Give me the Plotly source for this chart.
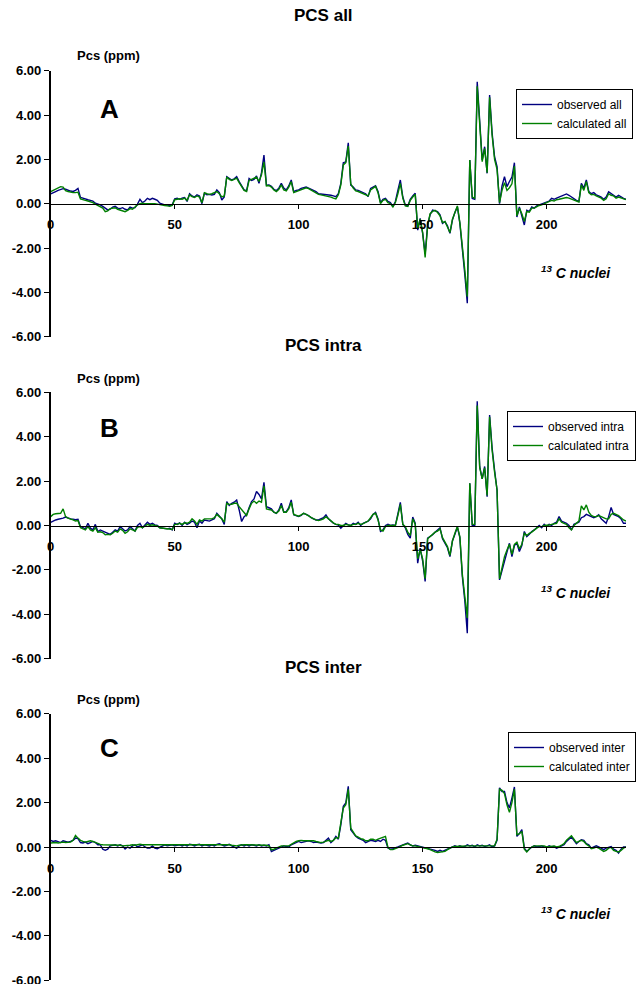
import plotly.graph_objects as go

# ---------------- data ----------------
nuclei = list(range(233))

obs_all = [
    0.44, 0.48, 0.55, 0.6, 0.65, 0.68, 0.65, 0.6, 0.57, 0.55,
    0.6, 0.69, 0.28, 0.25, 0.2, 0.18, 0.15, 0.12, 0.02, 0.0,
    -0.05, -0.12, -0.22, -0.28, -0.25, -0.15, -0.12, -0.2, -0.22, -0.18,
    -0.25, -0.28, -0.15, -0.2, -0.18, -0.02, 0.2, 0.05, 0.12, 0.24,
    0.18, 0.24, 0.2, 0.15, 0.02, -0.02, -0.05, -0.06, -0.08, -0.05,
    0.22, 0.25, 0.2, 0.25, 0.28, 0.1, 0.45, 0.35, 0.3, 0.4,
    0.35, 0.0, 0.48, 0.4, 0.42, 0.39, 0.42, 0.62, 0.5, 0.17,
    0.3, 1.22, 1.15, 1.07, 1.12, 1.22, 1.0, 0.8, 0.62, 0.59,
    1.14, 1.05, 1.1, 1.25, 0.92, 1.4, 2.19, 0.84, 0.85, 0.78,
    0.65, 0.59, 0.7, 0.92, 0.7, 0.62, 0.8, 1.07, 0.54, 0.6,
    0.62, 0.69, 0.72, 0.75, 0.7, 0.65, 0.6, 0.55, 0.45, 0.44,
    0.42, 0.4, 0.39, 0.38, 0.35, 0.32, 0.45, 0.92, 1.85, 1.89,
    2.75, 0.84, 0.75, 0.62, 0.6, 0.55, 0.5, 0.45, 0.32, 0.69,
    0.75, 0.81, 0.55, 0.05, 0.2, 0.24, 0.1, 0.05, -0.13, 0.1,
    0.6, 1.07, 0.3, -0.06, -0.1, 0.2, 0.35, 0.47, -1.19, -0.66,
    -1.34, -2.27, -0.96, -0.5, -0.29, -0.32, -0.36, -0.5, -0.89, -0.81,
    -1.0, -1.34, -0.74, -0.4, -0.14, -0.89, -2.24, -3.2, -4.49, 1.97,
    0.24, 0.2, 5.5, 3.5, 1.97, 2.57, 1.37, 4.9, 3.2, 2.12,
    1.67, 0.0, 0.8, 1.22, 0.77, 1.0, 1.2, 1.85, -0.6, -0.15,
    -0.5, -0.96, -0.3, -0.35, -0.15, -0.2, -0.1, -0.05, 0.0, 0.05,
    0.1, 0.12, 0.24, 0.2, 0.25, 0.3, 0.35, 0.4, 0.44, 0.38,
    0.3, 0.2, 0.15, 0.1, 0.92, 0.7, 1.07, 0.55, 0.45, 0.5,
    0.4, 0.35, 0.3, 0.2, 0.3, 0.54, 0.45, 0.4, 0.3, 0.38,
    0.3, 0.24, 0.2,
]

calc_all = [
    0.54, 0.6, 0.65, 0.72, 0.77, 0.75, 0.59, 0.55, 0.52, 0.5,
    0.5, 0.52, 0.22, 0.2, 0.15, 0.12, 0.1, 0.05, -0.02, -0.08,
    -0.12, -0.2, -0.36, -0.32, -0.22, -0.2, -0.18, -0.25, -0.28, -0.3,
    -0.36, -0.3, -0.22, -0.25, -0.15, -0.05, 0.0, 0.02, 0.0, 0.0,
    0.0, 0.02, 0.0, -0.02, -0.05, -0.06, -0.08, -0.1, -0.12, -0.08,
    0.18, 0.2, 0.22, 0.2, 0.25, 0.15, 0.4, 0.32, 0.28, 0.35,
    0.3, 0.05, 0.5, 0.45, 0.42, 0.45, 0.5, 0.55, 0.45, 0.31,
    0.35, 1.2, 1.1, 1.05, 1.1, 1.15, 0.95, 0.75, 0.6, 0.55,
    1.05, 1.1, 1.15, 1.2, 1.0, 1.3, 1.89, 0.8, 0.82, 0.75,
    0.62, 0.55, 0.65, 0.85, 0.62, 0.58, 0.75, 1.0, 0.5, 0.55,
    0.6, 0.65, 0.7, 0.72, 0.68, 0.62, 0.55, 0.5, 0.42, 0.4,
    0.38, 0.35, 0.35, 0.3, 0.25, 0.22, 0.4, 0.85, 1.75, 1.85,
    2.6, 0.9, 0.7, 0.58, 0.55, 0.5, 0.48, 0.42, 0.35, 0.62,
    0.7, 0.78, 0.5, 0.0, 0.15, 0.2, 0.05, 0.0, -0.15, 0.05,
    0.45, 0.92, 0.25, -0.1, -0.12, 0.15, 0.3, 0.42, -1.1, -0.7,
    -1.3, -2.42, -1.0, -0.45, -0.35, -0.3, -0.4, -0.55, -0.85, -0.8,
    -1.05, -1.3, -0.7, -0.35, -0.1, -0.85, -2.1, -3.0, -4.19, 1.97,
    0.3, 0.25, 5.3, 3.4, 1.9, 2.5, 1.4, 4.8, 3.1, 2.0,
    1.55, 0.05, 0.6, 0.95, 0.6, 0.72, 0.9, 1.7, -0.55, -0.2,
    -0.45, -0.8, -0.35, -0.38, -0.2, -0.2, -0.12, -0.08, -0.05, 0.0,
    0.05, 0.08, 0.15, 0.12, 0.18, 0.2, 0.22, 0.25, 0.28, 0.25,
    0.2, 0.15, 0.1, 0.08, 0.85, 0.6, 1.0, 0.5, 0.4, 0.42,
    0.35, 0.3, 0.25, 0.15, 0.22, 0.45, 0.38, 0.35, 0.25, 0.3,
    0.25, 0.22, 0.18,
]

obs_intra = [
    0.14, 0.2, 0.25, 0.28, 0.3, 0.33, 0.38, 0.33, 0.3, 0.28,
    0.26, 0.28, -0.05, -0.1, -0.15, 0.1, -0.12, -0.2, 0.05, -0.27,
    -0.2, -0.25, -0.3, -0.35, -0.4, -0.3, -0.2, -0.25, -0.05, -0.15,
    -0.25, -0.2, -0.05, -0.15, -0.25, 0.0, 0.1, -0.1, 0.05, 0.15,
    0.05, 0.1, 0.03, 0.0, -0.1, -0.12, -0.12, -0.15, -0.12, -0.2,
    0.1, 0.05, 0.12, 0.0, 0.15, 0.05, 0.1, 0.2, 0.15, -0.1,
    0.2, 0.1, 0.25, 0.22, 0.2, 0.25, 0.3, 0.55, 0.4, 0.3,
    0.05, 1.08, 0.9, 1.0, 1.05, 1.15, 0.7, 0.18, 0.4, 0.48,
    0.8, 1.08, 1.2, 1.53, 1.4, 1.2, 1.94, 0.85, 0.8, 0.75,
    0.6, 0.55, 0.7, 1.0, 0.6, 0.62, 0.8, 1.15, 0.48, 0.45,
    0.4, 0.45, 0.55, 0.5, 0.45, 0.35, 0.28, 0.25, 0.25, 0.3,
    0.35, 0.48, 0.3, 0.2, 0.1, 0.05, 0.02, -0.12, 0.0, 0.1,
    0.03, 0.0, 0.1, 0.05, 0.15, 0.0, 0.1, 0.15, 0.2, 0.3,
    0.5, 0.59, 0.3, -0.27, -0.2, 0.0, 0.05, 0.0, 0.02, 0.0,
    0.5, 1.04, 0.05, -0.1, -0.4, -0.57, 0.38, 0.1, -1.7, -1.02,
    -1.6, -2.52, -0.57, -0.5, -0.42, -0.3, -0.2, -0.1, -0.6, -0.8,
    -1.0, -1.4, -0.7, -0.4, -0.07, -0.55, -2.3, -3.4, -4.85, 1.9,
    0.0, 0.0, 5.6, 2.66, 2.1, 2.66, 1.3, 4.98, 3.5, 2.5,
    1.6, -2.45, -2.0, -1.55, -1.2, -0.8, -1.4, -0.9, -0.8, -1.17,
    -0.9, -0.27, -0.5, -0.4, -0.27, -0.2, -0.1, 0.0, -0.1, 0.05,
    -0.05, 0.05, 0.0, 0.1, 0.15, 0.4, 0.2, 0.15, 0.1, 0.0,
    -0.2, 0.05, 0.1, 0.15, 0.35, 0.4, 0.5, 0.45, 0.4, 0.35,
    0.4, 0.48, 0.3, 0.2, 0.1, 0.4, 0.81, 0.5, 0.45, 0.4,
    0.3, 0.1, 0.1,
]

calc_intra = [
    0.4, 0.5, 0.53, 0.55, 0.55, 0.75, 0.4, 0.33, 0.3, 0.25,
    0.2, 0.22, -0.1, -0.15, -0.2, -0.05, -0.2, -0.25, -0.1, -0.3,
    -0.28, -0.32, -0.42, -0.4, -0.42, -0.35, -0.25, -0.3, -0.15, -0.22,
    -0.35, -0.28, -0.15, -0.2, -0.25, -0.08, -0.05, -0.1, -0.02, 0.05,
    0.0, 0.03, 0.0, -0.02, -0.1, -0.12, -0.12, -0.15, -0.15, -0.18,
    0.05, 0.05, 0.1, 0.05, 0.12, 0.1, 0.15, 0.3, 0.2, 0.05,
    0.25, 0.2, 0.3, 0.3, 0.28, 0.3, 0.35, 0.5, 0.4, 0.3,
    0.15, 1.0, 0.95, 0.95, 1.0, 1.0, 0.85, 0.7, 0.55, 0.45,
    0.75, 1.0, 1.1, 1.0, 1.1, 1.05, 1.79, 0.75, 0.72, 0.7,
    0.6, 0.55, 0.65, 0.9, 0.6, 0.6, 0.75, 1.05, 0.5, 0.45,
    0.42, 0.48, 0.55, 0.5, 0.42, 0.35, 0.3, 0.25, 0.22, 0.25,
    0.3, 0.4, 0.3, 0.2, 0.12, 0.05, 0.05, 0.0, 0.0, 0.05,
    0.02, 0.0, 0.05, 0.05, 0.1, 0.05, 0.08, 0.15, 0.2, 0.35,
    0.5, 0.55, 0.25, -0.2, -0.25, -0.05, 0.0, 0.0, 0.0, 0.0,
    0.45, 0.95, 0.05, -0.05, -0.3, -0.45, 0.3, 0.05, -1.5, -1.1,
    -1.5, -2.4, -0.6, -0.5, -0.4, -0.3, -0.25, -0.15, -0.55, -0.75,
    -0.95, -1.35, -0.7, -0.35, -0.05, -0.5, -2.2, -3.2, -4.17, 1.9,
    0.05, 0.05, 5.4, 2.6, 2.1, 2.6, 1.35, 4.9, 3.4, 2.4,
    1.6, -2.4, -1.9, -1.4, -1.1, -0.85, -1.3, -0.85, -0.75, -1.05,
    -0.85, -0.35, -0.45, -0.35, -0.3, -0.2, -0.12, -0.05, -0.05, 0.0,
    0.0, 0.02, 0.05, 0.08, 0.1, 0.3, 0.15, 0.1, 0.05, -0.1,
    -0.2, 0.0, 0.1, 0.2, 0.89, 0.7, 0.93, 0.6, 0.45, 0.4,
    0.4, 0.45, 0.4, 0.35, 0.3, 0.3, 0.5, 0.55, 0.5, 0.45,
    0.35, 0.25, 0.2,
]

obs_inter = [
    0.3, 0.25, 0.28, 0.25, 0.2, 0.28, 0.25, 0.22, 0.25, 0.3,
    0.4, 0.38, 0.2, 0.18, 0.22, 0.15, 0.2, 0.25, 0.2, 0.1,
    0.1, -0.1, -0.15, -0.1, 0.05, 0.08, 0.1, 0.05, 0.1, 0.05,
    -0.09, 0.0, -0.05, 0.05, 0.1, 0.0, 0.05, 0.1, 0.0, -0.05,
    -0.05, 0.05, -0.05, -0.08, -0.02, 0.05, 0.1, 0.05, 0.08, 0.1,
    0.05, 0.08, 0.1, 0.05, 0.1, 0.05, 0.12, 0.1, 0.05, 0.1,
    0.12, 0.05, 0.1, 0.08, 0.05, 0.1, 0.05, 0.12, 0.15, 0.1,
    0.05, 0.08, 0.12, 0.05, 0.0, -0.05, 0.05, 0.1, 0.05, 0.1,
    0.05, 0.1, 0.08, 0.05, 0.1, 0.05, 0.08, 0.05, 0.1, -0.2,
    -0.15, -0.1, -0.05, 0.0, 0.05, 0.02, 0.0, 0.1, 0.15, 0.2,
    0.25, 0.2, 0.22, 0.25, 0.28, 0.25, 0.2, 0.22, 0.2, 0.18,
    0.2, 0.3, 0.4, 0.2, 0.3, 0.48, 0.35, 1.0, 1.83, 1.98,
    2.73, 0.78, 0.6, 0.48, 0.4, 0.35, 0.3, 0.2, 0.25, 0.3,
    0.28, 0.25, 0.3, 0.25, 0.35, 0.3, -0.05, -0.1, -0.08, -0.05,
    0.0, 0.05, 0.1, 0.15, 0.18, 0.1, 0.05, 0.08, 0.05, 0.02,
    0.0, -0.02, -0.05, -0.08, -0.1, -0.15, -0.2, -0.15, -0.2, -0.15,
    -0.1, -0.05, 0.0, 0.05, 0.0, 0.05, 0.0, 0.02, 0.1, 0.05,
    0.08, 0.0, 0.1, 0.05, 0.08, 0.02, 0.05, 0.1, 0.0, 0.05,
    0.3, 2.66, 2.5, 2.5, 2.0, 1.76, 2.2, 2.7, 0.48, 0.6,
    0.78, -0.05, -0.2, -0.1, 0.0, 0.05, 0.0, 0.02, 0.05, 0.0,
    -0.02, 0.05, 0.0, 0.02, -0.05, 0.0, 0.05, 0.1, 0.25, 0.35,
    0.45, 0.3, 0.15, 0.25, 0.33, 0.3, 0.15, 0.1, -0.05, 0.0,
    0.05, 0.0, -0.05, -0.12, -0.05, 0.0, 0.02, -0.1, -0.15, -0.27,
    -0.1, 0.0, 0.0,
]

calc_inter = [
    0.18, 0.2, 0.2, 0.18, 0.2, 0.22, 0.2, 0.2, 0.22, 0.3,
    0.52, 0.4, 0.3, 0.25, 0.22, 0.25, 0.28, 0.25, 0.2, 0.15,
    0.12, 0.1, 0.1, 0.08, 0.1, 0.1, 0.08, 0.1, 0.08, 0.05,
    0.05, 0.05, 0.08, 0.1, 0.08, 0.1, 0.12, 0.1, 0.1, 0.12,
    0.13, 0.1, 0.12, 0.13, 0.12, 0.13, 0.12, 0.1, 0.12, 0.13,
    0.12, 0.13, 0.12, 0.1, 0.12, 0.13, 0.12, 0.13, 0.12, 0.1,
    0.12, 0.13, 0.12, 0.13, 0.12, 0.13, 0.12, 0.13, 0.12, 0.12,
    0.1, 0.12, 0.1, 0.08, 0.05, 0.05, 0.08, 0.1, 0.1, 0.1,
    0.1, 0.1, 0.1, 0.08, 0.1, 0.1, 0.08, 0.08, 0.05, -0.12,
    -0.1, -0.05, 0.0, 0.05, 0.05, 0.05, 0.05, 0.12, 0.2, 0.25,
    0.28, 0.3, 0.28, 0.28, 0.3, 0.3, 0.28, 0.25, 0.22, 0.2,
    0.22, 0.25, 0.3, 0.25, 0.3, 0.42, 0.4, 1.1, 1.75, 1.9,
    2.6, 0.85, 0.65, 0.5, 0.45, 0.38, 0.35, 0.28, 0.28, 0.35,
    0.35, 0.3, 0.35, 0.4, 0.45, 0.48, -0.02, -0.12, -0.12, -0.08,
    -0.02, 0.02, 0.08, 0.1, 0.15, 0.1, 0.05, 0.05, 0.03, 0.0,
    -0.02, -0.05, -0.08, -0.12, -0.18, -0.22, -0.25, -0.24, -0.22, -0.2,
    -0.12, -0.05, 0.0, 0.02, 0.03, 0.05, 0.05, 0.05, 0.05, 0.05,
    0.05, 0.05, 0.08, 0.05, 0.05, 0.05, 0.05, 0.08, 0.05, 0.05,
    0.35, 2.6, 2.55, 2.4, 1.9, 1.56, 2.0, 2.6, 0.55, 0.6,
    0.7, -0.1, -0.22, -0.08, 0.0, 0.05, 0.05, 0.05, 0.05, 0.05,
    0.0, 0.02, 0.05, 0.05, 0.0, 0.02, 0.08, 0.15, 0.3, 0.4,
    0.5, 0.35, 0.2, 0.25, 0.3, 0.25, 0.12, 0.05, -0.08, -0.05,
    0.0, -0.05, -0.12, -0.2, -0.15, -0.05, -0.02, -0.15, -0.2, -0.22,
    -0.15, -0.05, 0.0,
]

panel_titles = ["PCS all", "PCS intra", "PCS inter"]
panel_letters = ["A", "B", "C"]
observed_names = ["observed all", "observed intra", "observed inter"]
calculated_names = ["calculated all", "calculated intra", "calculated inter"]
y_ticks = [-6, -4, -2, 0, 2, 4, 6]
y_tick_text = ["-6.00", "-4.00", "-2.00", "0.00", "2.00", "4.00", "6.00"]
x_ticks = [0, 50, 100, 150, 200]

observed = [obs_all, obs_intra, obs_inter]
calculated = [calc_all, calc_intra, calc_inter]

# ---------------- layout geometry (pixels) ----------------
W, H = 636, 984
FONT = "Liberation Sans"
NAVY = "#000080"
GREEN = "#008000"


def fx(px):
    return px / W


def fy(py):
    return 1 - py / H


plot_left, plot_right = 50.7, 626.0
panels = [
    dict(top=70.7, bottom=336.7, title_y=16, ylabel_y=56, letter_y=109,
         nuclei_y=272, leg_x=633, leg_y=89),
    dict(top=392.3, bottom=658.7, title_y=345, ylabel_y=378, letter_y=428,
         nuclei_y=592, leg_x=636, leg_y=411),
    dict(top=713.7, bottom=980.3, title_y=667, ylabel_y=699, letter_y=748,
         nuclei_y=913, leg_x=636, leg_y=732),
]

fig = go.Figure()
layout = dict(
    width=W, height=H, autosize=False,
    margin=dict(l=0, r=0, t=0, b=0),
    paper_bgcolor="white", plot_bgcolor="white",
    font=dict(family=FONT, color="black"),
    annotations=[],
)

for k, p in enumerate(panels):
    n = "" if k == 0 else str(k + 1)
    leg = "legend" if k == 0 else f"legend{k + 1}"
    y_dom = [fy(p["bottom"]), fy(p["top"])]

    fig.add_trace(go.Scatter(
        x=nuclei, y=observed[k], mode="lines", name=observed_names[k],
        line=dict(color=NAVY, width=1.4), xaxis=f"x{n}", yaxis=f"y{n}",
        legend=leg,
    ))
    fig.add_trace(go.Scatter(
        x=nuclei, y=calculated[k], mode="lines", name=calculated_names[k],
        line=dict(color=GREEN, width=1.4), xaxis=f"x{n}", yaxis=f"y{n}",
        legend=leg,
    ))

    layout[f"xaxis{n}"] = dict(
        domain=[fx(plot_left), fx(plot_right)], range=[0, 232],
        anchor="free", position=(y_dom[0] + y_dom[1]) / 2,
        showline=True, linecolor="black", linewidth=1.3,
        ticks="outside", ticklen=4, tickwidth=1.2, tickcolor="black",
        tickvals=x_ticks, ticklabelstandoff=5, ticklabeloverflow="allow",
        tickfont=dict(family=FONT, size=13, color="black", weight="bold"),
        showgrid=False, zeroline=False, automargin=False,
    )
    layout[f"yaxis{n}"] = dict(
        domain=y_dom, range=[-6, 6], anchor=f"x{n}",
        showline=True, linecolor="black", linewidth=1.5,
        ticks="outside", ticklen=5, tickwidth=1.3, tickcolor="black",
        tickvals=y_ticks, ticktext=y_tick_text, ticklabeloverflow="allow",
        tickfont=dict(family=FONT, size=13, color="black", weight="bold"),
        showgrid=False, zeroline=False, automargin=False,
    )
    layout[leg] = dict(
        x=fx(p["leg_x"]), y=fy(p["leg_y"]), xanchor="right", yanchor="top",
        bordercolor="black", borderwidth=1, bgcolor="white",
        font=dict(family=FONT, size=12, color="black"),
        itemwidth=30, tracegroupgap=0,
    )

    layout["annotations"] += [
        dict(text=panel_titles[k], x=fx(323), y=fy(p["title_y"]),
             xref="paper", yref="paper", showarrow=False,
             xanchor="center", yanchor="middle",
             font=dict(family=FONT, size=17, weight="bold")),
        dict(text="Pcs (ppm)", x=fx(108.7), y=fy(p["ylabel_y"]),
             xref="paper", yref="paper", showarrow=False,
             xanchor="center", yanchor="middle",
             font=dict(family=FONT, size=13, weight="bold")),
        dict(text=panel_letters[k], x=fx(109.5), y=fy(p["letter_y"]),
             xref="paper", yref="paper", showarrow=False,
             xanchor="center", yanchor="middle",
             font=dict(family=FONT, size=26, weight="bold")),
        dict(text="<sup>13</sup> C nuclei", x=fx(576), y=fy(p["nuclei_y"]),
             xref="paper", yref="paper", showarrow=False,
             xanchor="center", yanchor="middle",
             font=dict(family=FONT, size=14, weight="bold", style="italic")),
    ]

fig.update_layout(**layout)
fig.write_html("out.html")
